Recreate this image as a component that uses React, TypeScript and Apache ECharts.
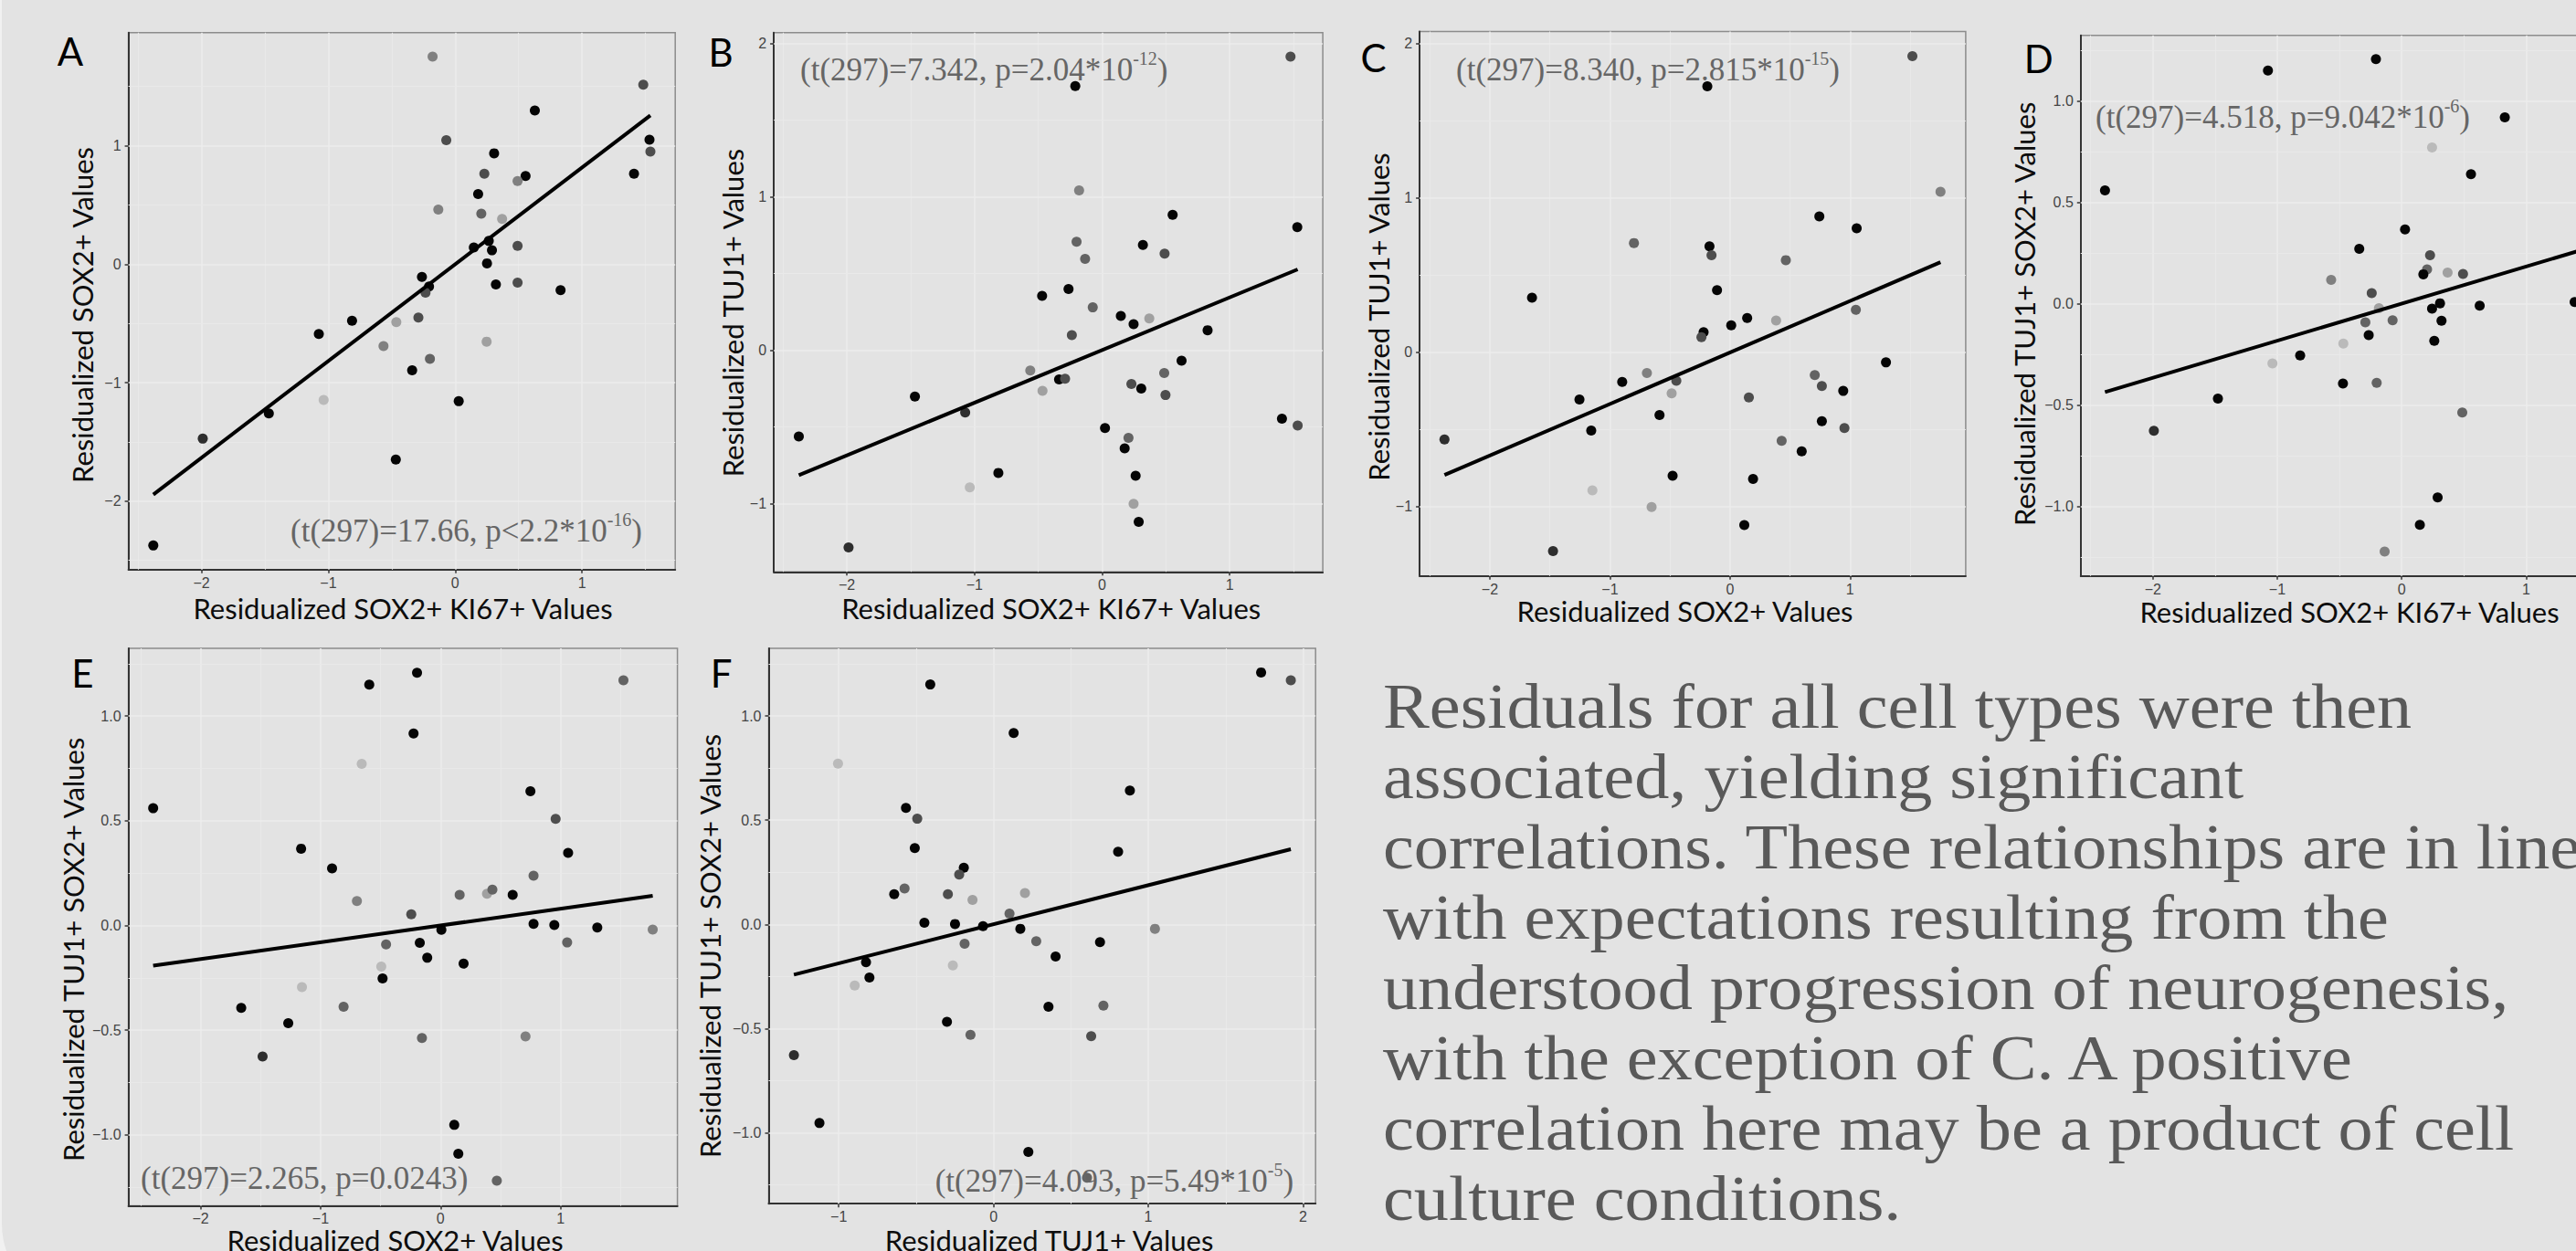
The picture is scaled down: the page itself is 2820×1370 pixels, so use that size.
import React, { useEffect, useRef } from "react";
import * as echarts from "echarts";

// ---- data (each row: x value, y value, shade group 0=black … 6=lightest) ----
const panelA: number[][] = [
  [-0.178, 1.752, 4], [1.483, 1.515, 2], [0.628, 1.298, 0], [-0.07, 1.046, 2], [1.532, 1.05, 0],
  [1.539, 0.95, 2], [0.307, 0.936, 0], [0.23, 0.764, 2], [0.555, 0.744, 0], [0.492, 0.702, 4],
  [1.41, 0.764, 0], [0.181, 0.592, 0], [-0.133, 0.461, 4], [0.206, 0.427, 3], [0.37, 0.382, 5],
  [0.147, 0.141, 0], [0.265, 0.196, 0], [0.29, 0.117, 0], [0.492, 0.155, 2], [0.251, 0.007, 0],
  [-0.262, -0.107, 0], [0.321, -0.172, 0], [0.492, -0.155, 2], [-0.206, -0.189, 0], [-0.234, -0.241, 2],
  [0.831, -0.22, 0], [-0.813, -0.478, 0], [-0.29, -0.451, 2], [-0.464, -0.489, 5], [-1.075, -0.589, 0],
  [-0.565, -0.692, 4], [0.248, -0.654, 5], [-0.199, -0.799, 3], [-0.339, -0.895, 0], [-1.037, -1.146, 6],
  [0.028, -1.157, 0], [-1.469, -1.26, 0], [-1.99, -1.473, 1], [-0.468, -1.649, 0], [-2.38, -2.375, 0],
];
const panelB: number[][] = [
  [1.477, 1.915, 2], [-0.21, 1.723, 0], [-0.18, 1.043, 4], [0.553, 0.883, 0], [1.53, 0.803, 0],
  [-0.2, 0.707, 3], [0.32, 0.686, 0], [0.49, 0.63, 2], [-0.133, 0.596, 3], [-0.263, 0.399, 0],
  [-0.47, 0.354, 0], [-0.073, 0.279, 3], [0.147, 0.223, 0], [0.37, 0.207, 5], [0.247, 0.17, 0],
  [0.827, 0.13, 0], [-0.237, 0.098, 2], [0.623, -0.069, 0], [-0.563, -0.133, 4], [0.487, -0.149, 3],
  [-0.337, -0.191, 0], [-0.29, -0.186, 2], [0.23, -0.221, 2], [0.307, -0.25, 0], [-0.467, -0.266, 5],
  [0.497, -0.293, 2], [-1.467, -0.303, 0], [-1.073, -0.407, 1], [1.41, -0.447, 0], [1.533, -0.492, 2],
  [0.023, -0.508, 0], [-2.377, -0.564, 0], [0.207, -0.572, 3], [0.177, -0.641, 0], [-0.813, -0.801, 0],
  [0.263, -0.819, 0], [-1.037, -0.896, 6], [0.247, -1.003, 5], [0.287, -1.12, 0], [-1.987, -1.287, 1],
];
const panelC: number[][] = [
  [1.519, 1.919, 2], [-0.189, 1.724, 0], [1.753, 1.041, 4], [0.744, 0.88, 0], [1.055, 0.804, 0],
  [-0.8, 0.708, 3], [-0.171, 0.687, 0], [-0.154, 0.629, 2], [0.465, 0.597, 3], [-0.108, 0.402, 0],
  [-1.649, 0.354, 0], [1.048, 0.275, 3], [0.143, 0.222, 0], [0.384, 0.206, 5], [0.01, 0.174, 0],
  [-0.22, 0.13, 0], [-0.238, 0.098, 2], [1.299, -0.066, 0], [-0.692, -0.135, 4], [0.706, -0.148, 3],
  [-0.898, -0.193, 0], [-0.447, -0.185, 2], [0.765, -0.219, 2], [0.943, -0.251, 0], [-0.486, -0.267, 5],
  [0.157, -0.293, 2], [-1.254, -0.307, 0], [-0.587, -0.407, 0], [0.765, -0.447, 0], [0.953, -0.492, 2],
  [-1.156, -0.508, 0], [-2.378, -0.566, 1], [0.43, -0.574, 3], [0.597, -0.642, 0], [-0.478, -0.801, 0],
  [0.192, -0.822, 0], [-1.146, -0.896, 6], [-0.653, -1.004, 5], [0.119, -1.121, 0], [-1.474, -1.29, 1],
];
const panelD: number[][] = [
  [-0.207, 1.206, 0], [-1.075, 1.15, 0], [0.829, 0.919, 0], [0.244, 0.77, 6], [0.557, 0.639, 0],
  [-2.385, 0.559, 0], [0.027, 0.366, 0], [-0.341, 0.271, 0], [0.228, 0.239, 2], [0.204, 0.169, 3],
  [0.174, 0.145, 0], [0.369, 0.153, 5], [0.493, 0.147, 2], [-0.567, 0.117, 4], [-0.241, 0.052, 2],
  [0.308, 0.002, 0], [0.627, -0.01, 0], [1.39, 0.008, 0], [0.244, -0.024, 0], [-0.183, -0.022, 5],
  [-0.073, -0.082, 3], [-0.292, -0.092, 3], [0.32, -0.084, 0], [-0.265, -0.155, 0], [0.262, -0.183, 0],
  [-0.469, -0.197, 6], [-0.816, -0.255, 0], [-1.039, -0.295, 6], [-0.201, -0.39, 3], [-0.472, -0.394, 0],
  [-1.477, -0.468, 0], [0.487, -0.537, 3], [-1.992, -0.627, 1], [0.289, -0.955, 0], [0.146, -1.091, 0],
  [-0.137, -1.222, 4],
];
const panelE: number[][] = [
  [-0.196, 1.207, 0], [-0.594, 1.15, 0], [1.524, 1.171, 3], [-0.225, 0.917, 0], [-0.657, 0.772, 6],
  [0.749, 0.641, 0], [-2.395, 0.56, 0], [0.959, 0.509, 2], [-1.162, 0.367, 0], [1.063, 0.347, 0],
  [-0.904, 0.273, 0], [0.775, 0.238, 3], [-0.697, 0.117, 4], [0.159, 0.146, 3], [0.387, 0.152, 5],
  [0.432, 0.171, 3], [0.601, 0.146, 0], [-0.244, 0.054, 2], [0.775, 0.008, 0], [0.948, 0.002, 0],
  [1.306, -0.01, 0], [0.007, -0.021, 0], [1.768, -0.019, 4], [-0.454, -0.09, 3], [-0.173, -0.083, 0],
  [1.055, -0.081, 3], [-0.111, -0.154, 0], [0.192, -0.182, 0], [-0.494, -0.196, 6], [-0.483, -0.253, 0],
  [-1.155, -0.294, 6], [-0.808, -0.388, 3], [-1.661, -0.393, 0], [-1.269, -0.466, 0], [0.708, -0.53, 4],
  [-0.155, -0.537, 3], [-1.483, -0.626, 1], [0.114, -0.952, 0], [0.148, -1.09, 0], [0.469, -1.219, 3],
];
const panelF: number[][] = [
  [1.729, 1.209, 0], [1.921, 1.171, 2], [-0.409, 1.151, 0], [0.13, 0.918, 0], [-1.005, 0.771, 6],
  [0.881, 0.642, 0], [-0.566, 0.559, 0], [-0.493, 0.507, 2], [-0.509, 0.366, 0], [0.805, 0.349, 0],
  [-0.192, 0.272, 0], [-0.222, 0.239, 2], [-0.575, 0.172, 3], [-0.642, 0.145, 0], [-0.295, 0.145, 2],
  [-0.136, 0.118, 5], [0.203, 0.15, 5], [0.103, 0.052, 3], [-0.447, 0.008, 0], [-0.249, 0.002, 0],
  [-0.068, -0.008, 0], [0.173, -0.021, 0], [1.043, -0.021, 4], [-0.187, -0.093, 3], [0.276, -0.081, 3],
  [0.688, -0.085, 0], [0.401, -0.154, 0], [-0.824, -0.181, 0], [-0.263, -0.197, 6], [-0.802, -0.255, 0],
  [-0.897, -0.293, 6], [0.355, -0.395, 0], [0.71, -0.39, 3], [-0.301, -0.467, 0], [-0.149, -0.53, 3],
  [0.631, -0.536, 2], [-1.29, -0.627, 1], [-1.125, -0.953, 0], [0.225, -1.092, 0], [0.604, -1.215, 3],
];

// fitted regression lines (end points)
const fitA = [[-2.38, -1.945], [1.539, 1.256]];
const fitB = [[-2.377, -0.816], [1.533, 0.527]];
const fitC = [[-2.378, -0.796], [1.753, 0.584]];
const fitD = [[-2.385, -0.436], [1.539, 0.282]];
const fitE = [[-2.395, -0.192], [1.768, 0.142]];
const fitF = [[-1.29, -0.241], [1.921, 0.361]];

// axis extents
const xRangeA = [-2.576, 1.735], yRangeA = [-2.578, 1.955];
const xRangeB = [-2.573, 1.73], yRangeB = [-1.447, 2.072];
const xRangeC = [-2.585, 1.963], yRangeC = [-1.451, 2.08];
const xRangeD = [-2.58, 1.73], yRangeD = [-1.343, 1.323];
const xRangeE = [-2.601, 1.974], yRangeE = [-1.338, 1.324];
const xRangeF = [-1.453, 2.081], yRangeF = [-1.34, 1.325];

// tick labels
const ticksInt = [-2, -1, 0, 1];
const ticksTuj = [-1, 0, 1, 2];
const ticksHalf = [-1, -0.5, 0, 0.5, 1];

// axis titles / annotations
const titleSK = "Residualized SOX2+ KI67+ Values";
const titleS = "Residualized SOX2+ Values";
const titleT = "Residualized TUJ1+ Values";
const titleTS = "Residualized TUJ1+ SOX2+ Values";
const statA = ["(t(297)=17.66, p<2.2*10", "-16", ")"];
const statB = ["(t(297)=7.342, p=2.04*10", "-12", ")"];
const statC = ["(t(297)=8.340, p=2.815*10", "-15", ")"];
const statD = ["(t(297)=4.518, p=9.042*10", "-6", ")"];
const statE = ["(t(297)=2.265, p=0.0243)", "", ""];
const statF = ["(t(297)=4.093, p=5.49*10", "-5", ")"];

const paragraph = [
  "Residuals for all cell types were then",
  "associated, yielding significant",
  "correlations. These relationships are in line",
  "with expectations resulting from the",
  "understood progression of neurogenesis,",
  "with the exception of C. A positive",
  "correlation here may be a product of cell",
  "culture conditions.",
];

// ---- styling ----
const SHADES = ["#050505", "#2e2e2e", "#4d4d4d", "#636363", "#808080", "#a0a0a0", "#bababa"];
const SANS = 'Lato, "Open Sans", sans-serif';
const SERIF = '"Liberation Serif", "DejaVu Serif", serif';
const TICKF = '"Liberation Sans", Arial, sans-serif';

type Panel = {
  letter: string; data: number[][]; fit: number[][];
  rect: number[]; xr: number[]; yr: number[]; xt: number[]; yt: number[]; xd: number; yd: number;
  letterPos: number[]; xTitle: string; xTitlePos: number[]; yTitle: string; yTitlePos: number[];
  stat: string[]; statPos: number[];
};

const panels: Panel[] = [
  { letter: "A", data: panelA, fit: fitA, rect: [140.6, 35.7, 598.6, 588], xr: xRangeA, yr: yRangeA,
    xt: ticksInt, yt: ticksInt, xd: 0, yd: 0, letterPos: [77, 56],
    xTitle: titleSK, xTitlePos: [441, 666], yTitle: titleS, yTitlePos: [90, 345], stat: statA, statPos: [318, 578.5] },
  { letter: "B", data: panelB, fit: fitB, rect: [847.1, 35.7, 601, 590.6], xr: xRangeB, yr: yRangeB,
    xt: ticksInt, yt: ticksTuj, xd: 0, yd: 0, letterPos: [789, 56.5],
    xTitle: titleSK, xTitlePos: [1150.7, 666], yTitle: titleT, yTitlePos: [802.4, 342.6], stat: statB, statPos: [876, 74.2] },
  { letter: "C", data: panelC, fit: fitC, rect: [1554.1, 34.4, 597.8, 596.4], xr: xRangeC, yr: yRangeC,
    xt: ticksInt, yt: ticksTuj, xd: 0, yd: 0, letterPos: [1503.6, 63.2],
    xTitle: titleS, xTitlePos: [1844.5, 669], yTitle: titleT, yTitlePos: [1509.3, 347], stat: statC, statPos: [1594, 74.2] },
  { letter: "D", data: panelD, fit: fitD, rect: [2277.8, 38.8, 587, 592], xr: xRangeD, yr: yRangeD,
    xt: ticksInt, yt: ticksHalf, xd: 0, yd: 1, letterPos: [2231.8, 64.3],
    xTitle: titleSK, xTitlePos: [2572, 669.5], yTitle: titleTS, yTitlePos: [2216, 343.8], stat: statD, statPos: [2294, 126] },
  { letter: "E", data: panelE, fit: fitE, rect: [140.6, 709.9, 601, 610.5], xr: xRangeE, yr: yRangeE,
    xt: ticksInt, yt: ticksHalf, xd: 0, yd: 1, letterPos: [90.4, 737.2],
    xTitle: titleS, xTitlePos: [432.6, 1357.5], yTitle: titleTS, yTitlePos: [80, 1039.8], stat: statE, statPos: [154, 1288.2] },
  { letter: "F", data: panelF, fit: fitF, rect: [841.5, 709.9, 598.7, 608.3], xr: xRangeF, yr: yRangeF,
    xt: ticksTuj, yt: ticksHalf, xd: 0, yd: 1, letterPos: [789.6, 737.2],
    xTitle: titleT, xTitlePos: [1148.6, 1357.5], yTitle: titleTS, yTitlePos: [776.6, 1035.9], stat: statF, statPos: [1023.7, 1290.5] },
];

function fmt(v: number, dec: number): string {
  const s = Math.abs(v).toFixed(dec);
  return v < -1e-9 ? "\u2212" + s : s;
}

function minors(t: number[], r: number[]): number[] {
  const step = t[1] - t[0];
  const out: number[] = [];
  for (let v = t[0] - step * 4 + step / 2; v < r[1]; v += step) {
    if (v > r[0] && v < r[1]) out.push(Math.round(v * 1000) / 1000);
  }
  return out;
}

function buildOption() {
  const grid = panels.map((p) => ({
    left: p.rect[0], top: p.rect[1], width: p.rect[2], height: p.rect[3],
    show: true, borderColor: "#8c8c8c", borderWidth: 1.5, backgroundColor: "transparent",
    containLabel: false, outerBoundsMode: "none",
  }));
  const axisCommon = {
    type: "value",
    splitLine: { show: false },
    minorSplitLine: { show: false },
    axisLine: { show: true, onZero: false, lineStyle: { color: "#333333", width: 2 } },
  };
  const xAxis = panels.map((p, i) => ({
    ...axisCommon, gridIndex: i, min: p.xr[0], max: p.xr[1],
    axisTick: { show: true, customValues: p.xt, length: 4, lineStyle: { color: "#333333", width: 1.5 } },
    axisLabel: { customValues: p.xt, formatter: (v: number) => fmt(v, p.xd), margin: 6,
      fontFamily: TICKF, fontSize: 16, lineHeight: 17, color: "#444444" },
  }));
  const yAxis = panels.map((p, i) => ({
    ...axisCommon, gridIndex: i, min: p.yr[0], max: p.yr[1],
    axisTick: { show: true, customValues: p.yt, length: 4, lineStyle: { color: "#333333", width: 1.5 } },
    axisLabel: { customValues: p.yt, formatter: (v: number) => fmt(v, p.yd), margin: 8,
      fontFamily: TICKF, fontSize: 16, color: "#444444" },
  }));

  const series: any[] = [];
  panels.forEach((p, i) => {
    const major = { color: "#ececec", width: 1.6, type: "solid" };
    const minor = { color: "#e9e9e9", width: 1.1, type: "solid" };
    const gl: any[] = [];
    p.xt.forEach((v) => gl.push({ xAxis: v, lineStyle: major }));
    minors(p.xt, p.xr).forEach((v) => gl.push({ xAxis: v, lineStyle: minor }));
    p.yt.forEach((v) => gl.push({ yAxis: v, lineStyle: major }));
    minors(p.yt, p.yr).forEach((v) => gl.push({ yAxis: v, lineStyle: minor }));
    series.push({
      type: "scatter", xAxisIndex: i, yAxisIndex: i, z: 3, silent: true,
      symbol: "circle", symbolSize: 11,
      data: p.data.map((d) => ({ value: [d[0], d[1]], itemStyle: { color: SHADES[d[2]], opacity: 1 } })),
      markLine: { silent: true, z: 1, symbol: ["none", "none"], label: { show: false },
        emphasis: { disabled: true }, data: gl },
    });
    series.push({
      type: "line", xAxisIndex: i, yAxisIndex: i, z: 4, silent: true,
      symbol: "none", showSymbol: false,
      lineStyle: { color: "#000000", width: 4 },
      data: p.fit,
    });
  });

  const graphics: any[] = [
    { type: "rect", z: -10, silent: true,
      shape: { x: 2, y: -40, width: 2900, height: 1472, r: [0, 0, 0, 92] },
      style: { fill: "#e3e3e3" } },
  ];
  panels.forEach((p) => {
    graphics.push({ type: "text", x: p.letterPos[0], y: p.letterPos[1], z: 20, silent: true,
      style: { text: p.letter, fontFamily: SANS, fontSize: 42, fill: "#000000",
        align: "center", verticalAlign: "middle", textAlign: "center", textVerticalAlign: "middle" } });
    graphics.push({ type: "text", x: p.xTitlePos[0], y: p.xTitlePos[1], z: 20, silent: true,
      style: { text: p.xTitle, fontFamily: SANS, fontSize: 31, lineHeight: 24, fill: "#0d0d0d",
        align: "center", verticalAlign: "middle", textAlign: "center", textVerticalAlign: "middle" } });
    graphics.push({ type: "text", x: p.yTitlePos[0], y: p.yTitlePos[1], rotation: Math.PI / 2, z: 20, silent: true,
      style: { text: p.yTitle, fontFamily: SANS, fontSize: 31, lineHeight: 26, fill: "#0d0d0d",
        align: "center", verticalAlign: "middle", textAlign: "center", textVerticalAlign: "middle" } });
    const parts = p.stat;
    let txt = "{m|" + parts[0] + "}";
    if (parts[1]) txt += "{s|" + parts[1] + "}";
    if (parts[2]) txt += "{m|" + parts[2] + "}";
    graphics.push({ type: "text", x: p.statPos[0], y: p.statPos[1], z: 30, silent: true,
      style: { text: txt, fill: "#666666", fontFamily: SERIF, fontSize: 35,
        align: "left", verticalAlign: "middle", textAlign: "left", textVerticalAlign: "middle",
        rich: {
          m: { fontFamily: SERIF, fontSize: 35, lineHeight: 40, fill: "#666666", color: "#666666", verticalAlign: "bottom" },
          s: { fontFamily: SERIF, fontSize: 20, lineHeight: 27, fill: "#666666", color: "#666666", verticalAlign: "top" },
        } } });
  });
  graphics.push({ type: "text", x: 1514, y: 735.6, scaleX: 1.105, scaleY: 1, z: 20, silent: true,
    style: { text: paragraph.join("\n"), fontFamily: SERIF, fontSize: 69, lineHeight: 76.9, fill: "#595959",
      align: "left", verticalAlign: "top", textAlign: "left", textVerticalAlign: "top" } });

  return {
    animation: false,
    backgroundColor: "#f1f1f1",
    grid, xAxis, yAxis, series,
    graphic: { elements: graphics },
  };
}

export default function App() {
  const ref = useRef<HTMLDivElement>(null);
  useEffect(() => {
    document.body.style.margin = "0";
    document.body.style.overflow = "hidden";
    if (!ref.current) return;
    const chart = echarts.init(ref.current, null, { renderer: "svg" });
    chart.setOption(buildOption() as any);
    return () => chart.dispose();
  }, []);
  return (
    <div
      ref={ref}
      style={{ position: "absolute", left: 0, top: 0, width: 2820, height: 1370, overflow: "hidden" }}
    />
  );
}
